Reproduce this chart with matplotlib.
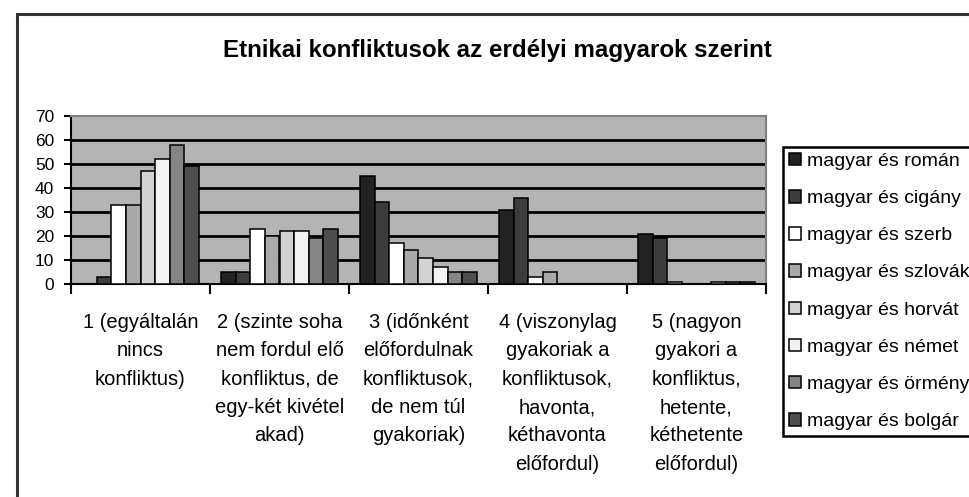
import matplotlib
matplotlib.use("Agg")
import matplotlib.pyplot as plt
from matplotlib.patches import Rectangle
from matplotlib import font_manager
import numpy as np

names = {f.name for f in font_manager.fontManager.ttflist}
fam = [n for n in ['Liberation Sans', 'Arimo', 'DejaVu Sans'] if n in names]
plt.rcParams['font.family'] = fam

title = "Etnikai konfliktusok az erdélyi magyarok szerint"
categories = [
    "1 (egyáltalán\nnincs\nkonfliktus)",
    "2 (szinte soha\nnem fordul elő\nkonfliktus, de\negy-két kivétel\nakad)",
    "3 (időnként\nelőfordulnak\nkonfliktusok,\nde nem túl\ngyakoriak)",
    "4 (viszonylag\ngyakoriak a\nkonfliktusok,\nhavonta,\nkéthavonta\nelőfordul)",
    "5 (nagyon\ngyakori a\nkonfliktus,\nhetente,\nkéthetente\nelőfordul)",
]
series_names = ["magyar és román", "magyar és cigány", "magyar és szerb",
                "magyar és szlovák", "magyar és horvát", "magyar és német",
                "magyar és örmény", "magyar és bolgár"]
roman = [0, 5, 45, 31, 21]
cigany = [3, 5, 34, 36, 19]
szerb = [33, 23, 17, 3, 1]
szlovak = [33, 20, 14, 5, 0]
horvat = [47, 22, 11, 0, 0]
nemet = [52, 22, 7, 0, 1]
ormeny = [58, 19, 5, 0, 1]
bolgar = [49, 23, 5, 0, 1]
yticks = [0, 10, 20, 30, 40, 50, 60, 70]

series = [roman, cigany, szerb, szlovak, horvat, nemet, ormeny, bolgar]
colors = ["#222222", "#3c3c3c", "#ffffff", "#a9a9a9", "#d2d2d2", "#f2f2f2", "#858585", "#4e4e4e"]

W, H = 970, 497
fig = plt.figure(figsize=(W / 100, H / 100), dpi=100)
fig.patch.set_facecolor("white")

fig.patches.append(Rectangle((17 / W, -0.05), 1.2, 1 - 14 / H + 0.05, transform=fig.transFigure,
                             fill=False, edgecolor="#333333", lw=2.2, zorder=0))

ax = fig.add_axes([71 / W, (H - 284) / H, (766 - 71) / W, (284 - 116) / H])
ax.set_facecolor("#b4b4b4")

n = len(series)
bw = 1.0 / (n + 1.5)
x = np.arange(len(categories))
for i, (vals, c, nm) in enumerate(zip(series, colors, series_names)):
    off = (i - (n - 1) / 2) * bw
    ax.bar(x + off, vals, width=bw, color=c, edgecolor="black", linewidth=1.1, label=nm, zorder=3)

ax.set_xlim(-0.5, len(categories) - 0.5)
ax.set_ylim(0, 70)
ax.set_yticks(yticks)
ax.set_yticklabels([str(v) for v in yticks], fontsize=12.5)
for v in yticks[1:-1]:
    ax.axhline(v, color="black", lw=2, zorder=1)

ax.set_xticks(x)
ax.set_xticklabels(categories, fontsize=14.5, linespacing=1.62, va="top")
ax.tick_params(axis="x", which="major", length=0, pad=21)
ax.set_xticks(np.arange(-0.5, len(categories)), minor=True)
ax.tick_params(axis="x", which="minor", length=7, width=1.5, direction="out")
ax.tick_params(axis="y", length=5, width=1.5, direction="out", pad=7)

for s in ["top", "right"]:
    ax.spines[s].set_color("#808080")
    ax.spines[s].set_linewidth(1.5)
for s in ["left", "bottom"]:
    ax.spines[s].set_color("black")
    ax.spines[s].set_linewidth(1.5)

fig.text(497 / W, 1 - 51 / H, title, ha="center", va="center", fontsize=17.4, fontweight="bold")

leg = fig.legend(loc="upper left", bbox_to_anchor=(783 / W, 1 - 147 / H), borderaxespad=0, fontsize=14,
                 handlelength=0.62, handleheight=0.62, handletextpad=0.3, labelspacing=1.03,
                 borderpad=0.3, fancybox=False, framealpha=1, edgecolor="black")
leg.get_frame().set_linewidth(1.8)

fig.savefig("out.png", dpi=100)
